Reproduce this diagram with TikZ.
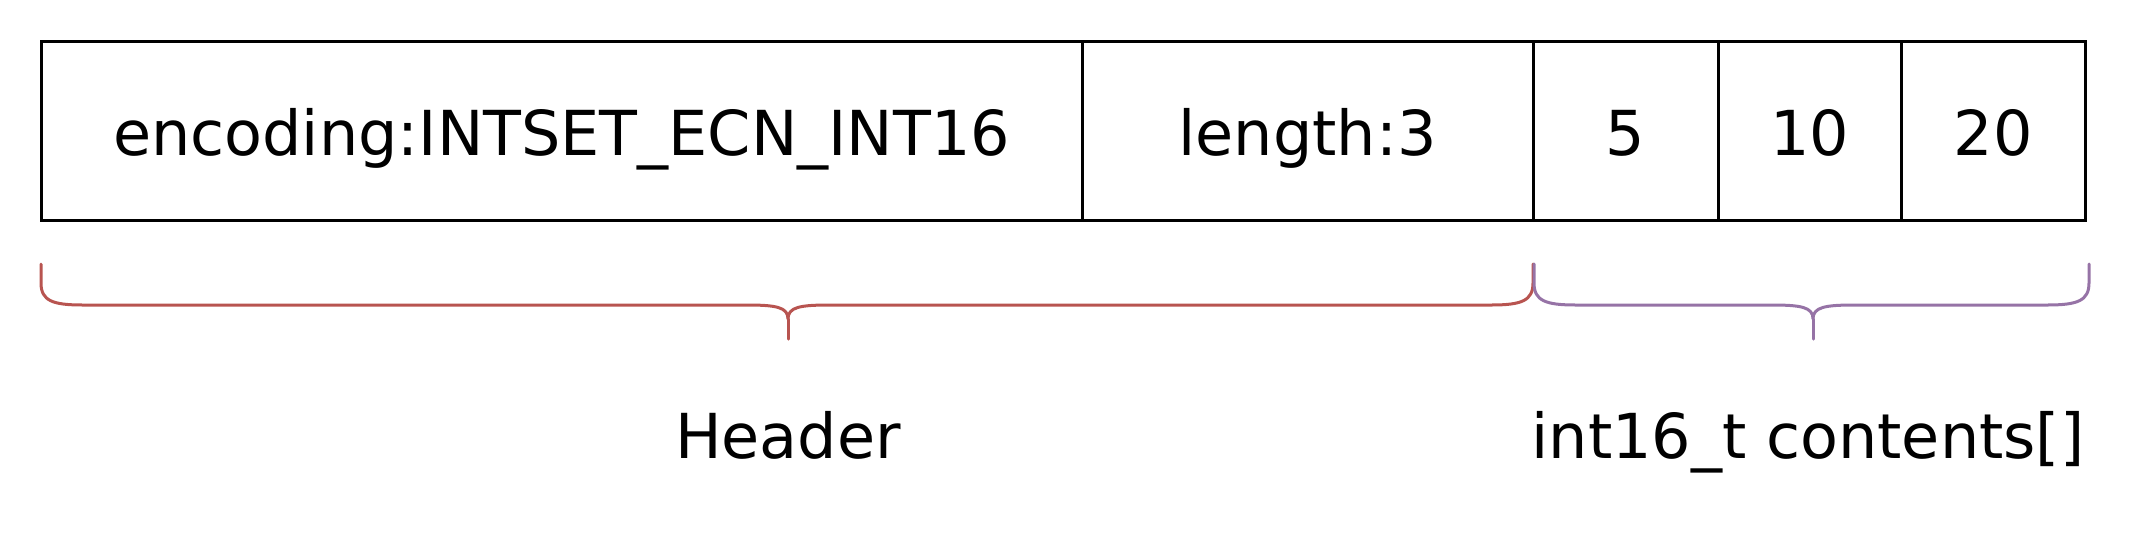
\documentclass[tikz,border=0pt]{standalone}
\usepackage{fontspec}
\setmainfont{DejaVu Sans}
\definecolor{bracered}{HTML}{B85450}
\definecolor{bracepurple}{HTML}{9673A6}
\newcommand{\drawmybrace}[4]{%
  \draw[#1] (#2,264) -- (#2,283) .. controls (#2,301) and ({#2+12},305) .. ({#2+42},305)
    -- ({#3-42},305) .. controls ({#3-12},305) and (#3,307) .. (#3,319)
    .. controls (#3,307) and ({#3+12},305) .. ({#3+42},305)
    -- ({#4-42},305) .. controls ({#4-12},305) and (#4,301) .. (#4,283) -- (#4,264);
  \draw[#1] (#3,319) -- (#3,339);}
\begin{document}
\begin{tikzpicture}[x=0.5pt,y=-0.5pt,
  cell/.style={draw=black,line width=1.5pt,minimum height=89.5pt,inner sep=0pt,
    text height=24.5pt,text depth=0pt,font=\fontsize{31}{37}\selectfont},
  bracestyle/.style={line width=1.5pt,line cap=round,line join=round},
  label/.style={anchor=base,inner sep=0pt,font=\fontsize{31}{37}\selectfont}]
\useasboundingbox (0,0) rectangle (2148,532);
\node[cell,minimum width=520.5pt] (enc) at (561.5,130.5) {encoding:INTSET\_ECN\_INT16};
\node[cell,minimum width=225.5pt] (len) at (1307.5,130.5) {length:3};
\node[cell,minimum width=92.5pt] (v5) at (1625.5,130.5) {5};
\node[cell,minimum width=91.5pt] (v10) at (1809.5,130.5) {10};
\node[cell,minimum width=92pt] (v20) at (1993,130.5) {20};
\drawmybrace{bracestyle,draw=bracered}{41}{788}{1533}
\drawmybrace{bracestyle,draw=bracepurple}{1534}{1813}{2089}
\node[label] (hdr) at (788,458) {Header};
\node[label] (cnt) at (1808,458) {int16\_t contents[]};
\end{tikzpicture}
\end{document}
